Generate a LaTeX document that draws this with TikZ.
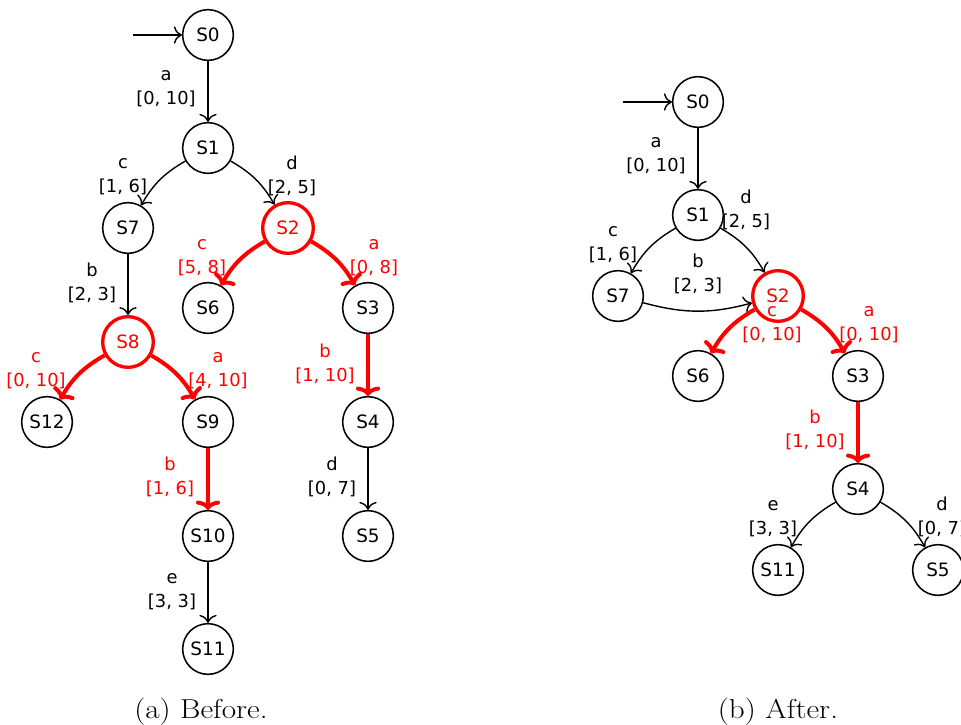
\documentclass[tikz,border=0pt]{standalone}
\usepackage{fontspec}
\newfontfamily\nodefont{DejaVu Sans}
\newfontfamily\capfont{Latin Modern Roman}[FakeStretch=1.14]
\usetikzlibrary{arrows.meta}
\begin{document}
\begin{tikzpicture}[x=0.75pt,y=-0.75pt,
  st/.style={circle,draw,line width=1.15pt,minimum size=38pt,inner sep=0pt,font=\nodefont\fontsize{13.8}{18}\selectfont},
  hot/.style={draw=red,text=red,line width=2.5pt},
  tr/.style={line width=1.05pt,-{Computer Modern Rightarrow[length=6pt,width=13pt]}},
  hottr/.style={draw=red,line width=3pt,-{Computer Modern Rightarrow[length=7pt,width=18pt]}},
  lbl/.style={align=center,inner sep=0pt,font=\nodefont\fontsize{13.4}{18}\selectfont},
  hotlbl/.style={lbl,text=red},
  captxt/.style={anchor=base,inner sep=0pt,font=\capfont\fontsize{20.5}{24}\selectfont}]
\useasboundingbox (0,0) rectangle (961,725);
% ---------- (a) Before ----------
\node[st] (a0) at (208,35) {S0};
\node[st] (a1) at (208,148) {S1};
\node[st] (a7) at (128,228) {S7};
\node[st,hot] (a2) at (288,228) {S2};
\node[st] (a6) at (208,308) {S6};
\node[st] (a3) at (368,308) {S3};
\node[st,hot] (a8) at (128,342) {S8};
\node[st] (a12) at (47,422) {S12};
\node[st] (a9) at (208,422) {S9};
\node[st] (a4) at (368,422) {S4};
\node[st] (a10) at (208,536) {S10};
\node[st] (a5) at (368,536) {S5};
\node[st] (a11) at (208,649) {S11};
\coordinate (ain) at (133,35);
\draw[tr] (ain) -- (a0);
\draw[tr] (a0) -- (a1);
\draw[tr] (a1) to[bend right=15] (a7);
\draw[tr] (a1) to[bend left=15] (a2);
\draw[hottr] (a2) to[bend right=15] (a6);
\draw[hottr] (a2) to[bend left=15] (a3);
\draw[tr] (a7) -- (a8);
\draw[hottr] (a8) to[bend right=15] (a12);
\draw[hottr] (a8) to[bend left=15] (a9);
\draw[hottr] (a3) -- (a4);
\draw[hottr] (a9) -- (a10);
\draw[tr] (a4) -- (a5);
\draw[tr] (a10) -- (a11);
\node[lbl] (la01) at (166,88) {\strut a\\\strut{[0, 10]}};
\node[lbl] (la17) at (123,176) {\strut c\\\strut{[1, 6]}};
\node[lbl] (la12) at (292,177) {\strut d\\\strut{[2, 5]}};
\node[hotlbl] (la26) at (202,257) {\strut c\\\strut{[5, 8]}};
\node[hotlbl] (la23) at (374,257) {\strut a\\\strut{[0, 8]}};
\node[lbl] (la78) at (92,284) {\strut b\\\strut{[2, 3]}};
\node[hotlbl] (la812) at (36,370) {\strut c\\\strut{[0, 10]}};
\node[hotlbl] (la89) at (218,370) {\strut a\\\strut{[4, 10]}};
\node[hotlbl] (la34) at (325,365) {\strut b\\\strut{[1, 10]}};
\node[hotlbl] (la910) at (170,478) {\strut b\\\strut{[1, 6]}};
\node[lbl] (la45) at (332,478) {\strut d\\\strut{[0, 7]}};
\node[lbl] (la1011) at (172,591) {\strut e\\\strut{[3, 3]}};
\node[captxt] (capa) at (201,718) {(a) Before.};
% ---------- (b) After ----------
\node[st] (b0) at (698,102) {S0};
\node[st] (b1) at (698,215) {S1};
\node[st] (b7) at (618,296) {S7};
\node[st,hot] (b2) at (778,296) {S2};
\node[st] (b6) at (698,376) {S6};
\node[st] (b3) at (858,376) {S3};
\node[st] (b4) at (858,489) {S4};
\node[st] (b11) at (778,570) {S11};
\node[st] (b5) at (938,570) {S5};
\coordinate (bin) at (623,102);
\draw[tr] (bin) -- (b0);
\draw[tr] (b0) -- (b1);
\draw[tr] (b1) to[bend right=15] (b7);
\draw[tr] (b1) to[bend left=15] (b2);
\draw[tr] (b7) to[bend right=15] (b2);
\draw[hottr] (b2) to[bend right=15] (b6);
\draw[hottr] (b2) to[bend left=15] (b3);
\draw[hottr] (b3) -- (b4);
\draw[tr] (b4) to[bend right=15] (b11);
\draw[tr] (b4) to[bend left=15] (b5);
\node[lbl] (lb01) at (656,155) {\strut a\\\strut{[0, 10]}};
\node[lbl] (lb17) at (613,244) {\strut c\\\strut{[1, 6]}};
\node[lbl] (lb12) at (746,211) {\strut d\\\strut{[2, 5]}};
\node[lbl] (lb72) at (698,275) {\strut b\\\strut{[2, 3]}};
\node[hotlbl] (lb26) at (772,324) {\strut c\\\strut{[0, 10]}};
\node[hotlbl] (lb23) at (869,324) {\strut a\\\strut{[0, 10]}};
\node[hotlbl] (lb34) at (815,431) {\strut b\\\strut{[1, 10]}};
\node[lbl] (lb411) at (773,518) {\strut e\\\strut{[3, 3]}};
\node[lbl] (lb45) at (942,518) {\strut d\\\strut{[0, 7]}};
\node[captxt] (capb) at (778,718) {(b) After.};
\end{tikzpicture}
\end{document}
